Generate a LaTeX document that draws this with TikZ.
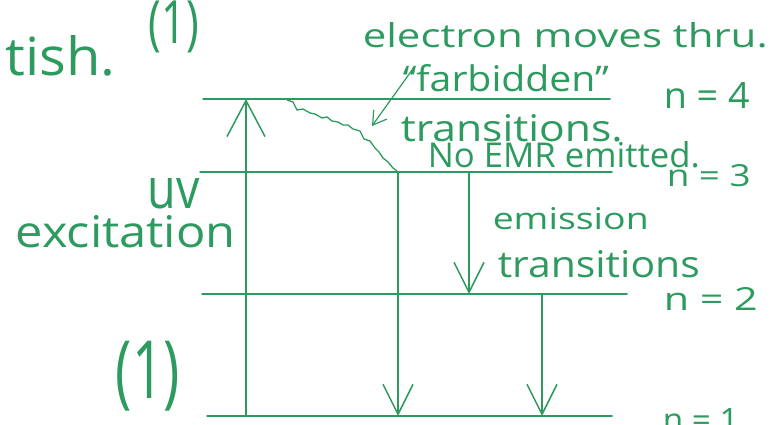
\documentclass[tikz,border=0pt]{standalone}
\usepackage{fontspec}
\setmainfont{Open Sans}
\usetikzlibrary{arrows.meta}
\definecolor{pen}{RGB}{45,155,95}
\newcommand\fitwh[3]{\resizebox{#1pt}{#2pt}{#3}}
\newcommand\fittot[3]{\resizebox*{#1pt}{#2pt}{#3}}
\begin{document}
\begin{tikzpicture}[x=1pt,y=-1pt,line width=1.5pt,
  every node/.style={inner sep=0pt,text=pen},
  lvl/.style={draw=pen,line cap=round},
  emit/.style={draw=pen,-{Straight Barb[length=30pt,width=30pt]}},
  uvarrow/.style={draw=pen,-{Straight Barb[length=36pt,width=38pt]}},
  pointer/.style={draw=pen,line width=1.2pt,-{Straight Barb[length=13pt,width=16pt]}},
  wiggle/.style={draw=pen,line width=1.3pt,line join=round},
  lbl/.style={anchor=base west}]
\useasboundingbox (0,0) rectangle (777,425);
\clip (0,0) rectangle (777,425);
\fill[white] (0,0) rectangle (777,425);

% energy levels
\coordinate (n4L) at (203,99);  \coordinate (n4R) at (610,99);
\coordinate (n3L) at (200,172); \coordinate (n3R) at (612,172);
\coordinate (n2L) at (202,294); \coordinate (n2R) at (627,294);
\coordinate (n1L) at (207,416); \coordinate (n1R) at (612,416);
\draw[lvl] (n4L) -- (n4R);
\draw[lvl] (n3L) -- (n3R);
\draw[lvl] (n2L) -- (n2R);
\draw[lvl] (n1L) -- (n1R);

% UV excitation arrow
\coordinate (uvB) at (246,416); \coordinate (uvT) at (246,99);
\draw[uvarrow] (uvB) -- (uvT);

% emission arrows
\coordinate (e1s) at (398,172); \coordinate (e1e) at (398,416);
\coordinate (e2s) at (469,172); \coordinate (e2e) at (469,294);
\coordinate (e3s) at (542,294); \coordinate (e3e) at (542,416);
\draw[emit] (e1s) -- (e1e);
\draw[emit] (e2s) -- (e2e);
\draw[emit] (e3s) -- (e3e);

% forbidden (non-radiative) path
\draw[wiggle] (287,100) -- (293,102) -- (297,110) -- (303,109) -- (310,113) -- (315,114)
  -- (322,118) -- (327,117) -- (332,121) -- (338,122) -- (343,125) -- (348,125)
  -- (353,129) -- (360,131) -- (364,139) -- (370,141) -- (375,148) -- (379,152)
  -- (383,158) -- (388,162) -- (393,168) -- (397,171);

% texts
\node[lbl] (tish) at (5,76) {\fitwh{110}{40}{tish.}};
\node[anchor=north west] (one1) at (148,0) {\fittot{50}{52}{(1)}};
\node[lbl] (elec) at (362,48) {\fitwh{405}{25}{electron moves thru.}};
\node[lbl] (farb) at (402,92) {\fitwh{206}{27}{“farbidden”}};
\node[lbl] (n4) at (663,109) {\fitwh{86}{26}{n = 4}};
\node[lbl] (trans1) at (400,142) {\fitwh{222}{27}{transitions.}};
\node[lbl] (noemr) at (427,168) {\fitwh{272}{26}{No EMR emitted.}};
\node[lbl] (n3) at (666,187) {\fitwh{84}{22}{n = 3}};
\node[lbl] (uv) at (147,208) {\fitwh{52}{30}{uv}};
\node[lbl] (exc) at (15,247) {\fitwh{220}{32}{excitation}};
\node[lbl] (emis) at (492,229) {\fitwh{156}{22}{emission}};
\node[lbl] (trans2) at (497,277) {\fitwh{202}{27}{transitions}};
\node[lbl] (n2) at (663,310) {\fitwh{94}{23}{n = 2}};
\node[anchor=north west] (one2) at (115,340) {\fittot{64}{70}{(1)}};
\node[lbl] (n1) at (662,431) {\fitwh{76}{23}{n = 1}};

% pointer from "farbidden" to the path
\coordinate (ptip) at (372,126);
\draw[pointer] (farb.north west) ++(12,3) -- (ptip);
\end{tikzpicture}
\end{document}
